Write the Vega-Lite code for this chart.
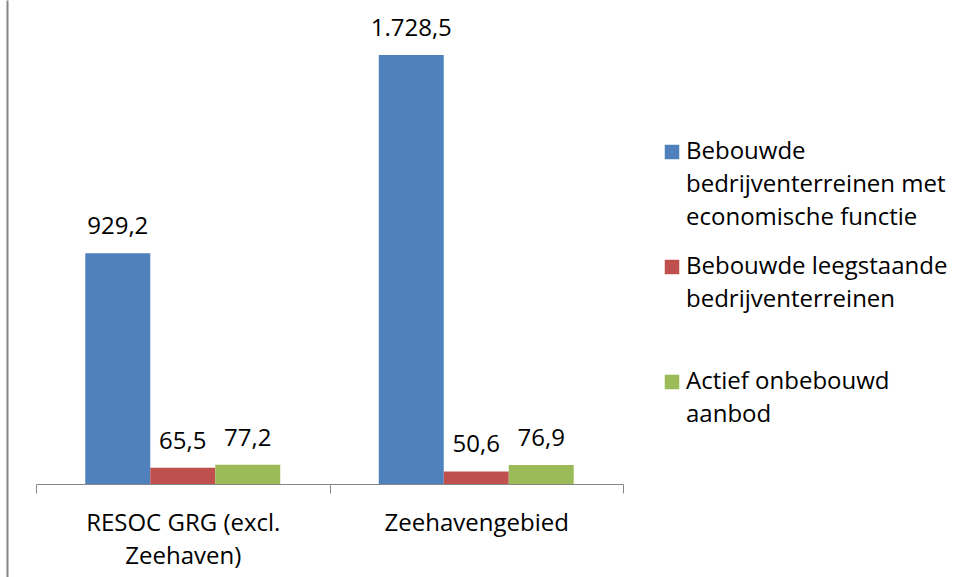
{
  "$schema": "https://vega.github.io/schema/vega-lite/v6.json",
  "width": 587,
  "height": 577,
  "autosize": {"type": "none"},
  "padding": {"left": 36, "top": 0, "right": 334, "bottom": 0},
  "background": "#ffffff",
  "data": {
    "values": [
      {"gebied": "RESOC GRG (excl. Zeehaven)", "reeks": "Bebouwde bedrijventerreinen met economische functie", "waarde": 929.2},
      {"gebied": "RESOC GRG (excl. Zeehaven)", "reeks": "Bebouwde leegstaande bedrijventerreinen", "waarde": 65.5},
      {"gebied": "RESOC GRG (excl. Zeehaven)", "reeks": "Actief onbebouwd aanbod", "waarde": 77.2},
      {"gebied": "Zeehavengebied", "reeks": "Bebouwde bedrijventerreinen met economische functie", "waarde": 1728.5},
      {"gebied": "Zeehavengebied", "reeks": "Bebouwde leegstaande bedrijventerreinen", "waarde": 50.6},
      {"gebied": "Zeehavengebied", "reeks": "Actief onbebouwd aanbod", "waarde": 76.9}
    ]
  },
  "encoding": {
    "x": {
      "field": "gebied",
      "type": "nominal",
      "sort": null,
      "scale": {"paddingInner": 0, "paddingOuter": 0},
      "axis": {
        "title": null,
        "offset": -93,
        "labelAngle": 0,
        "labelFont": "Open Sans",
        "labelFontSize": 24,
        "labelColor": "#000000",
        "labelLineHeight": 33,
        "labelPadding": 18,
        "labelLimit": 400,
        "labelExpr": "datum.value == 'RESOC GRG (excl. Zeehaven)' ? ['RESOC GRG (excl.', 'Zeehaven)'] : datum.value",
        "tickBand": "extent",
        "tickSize": 9,
        "tickColor": "#868686",
        "domainColor": "#868686",
        "grid": false
      }
    },
    "xOffset": {
      "field": "reeks",
      "type": "nominal",
      "sort": ["Bebouwde bedrijventerreinen met economische functie", "Bebouwde leegstaande bedrijventerreinen", "Actief onbebouwd aanbod"],
      "scale": {"paddingInner": 0, "paddingOuter": 0.758}
    },
    "y": {
      "field": "waarde",
      "type": "quantitative",
      "scale": {"domain": [-374.7, 1950], "nice": false, "zero": false},
      "axis": {
        "title": null,
        "labels": false,
        "ticks": false,
        "grid": false,
        "domain": true,
        "domainColor": "#868686",
        "domainWidth": 2,
        "offset": 29
      }
    }
  },
  "layer": [
    {
      "mark": {"type": "bar"},
      "encoding": {
        "y2": {"datum": 0},
        "color": {
          "field": "reeks",
          "type": "nominal",
          "sort": ["Bebouwde bedrijventerreinen met economische functie", "Bebouwde leegstaande bedrijventerreinen", "Actief onbebouwd aanbod"],
          "scale": {"range": ["#4F81BD", "#C0504D", "#9BBB59"]},
          "legend": {
            "orient": "none",
            "legendX": 624,
            "legendY": 140,
            "title": null,
            "symbolType": "square",
            "symbolSize": 210,
            "symbolStrokeWidth": 0,
            "labelFont": "Open Sans",
            "labelFontSize": 24,
            "labelColor": "#000000",
            "labelOffset": 2,
            "labelLimit": 400,
            "gridAlign": "all",
            "rowPadding": 25,
            "labelBaseline": "top",
            "labelExpr": "datum.value == 'Bebouwde bedrijventerreinen met economische functie' ? ['Bebouwde', 'bedrijventerreinen met', 'economische functie'] : datum.value == 'Bebouwde leegstaande bedrijventerreinen' ? ['Bebouwde leegstaande', 'bedrijventerreinen'] : ['Actief onbebouwd', 'aanbod']",
            "encode": {
              "labels": {"update": {"lineHeight": {"value": 33}, "dy": {"value": -12}}}
            }
          }
        }
      }
    },
    {
      "mark": {"type": "text", "baseline": "alphabetic", "dy": -19, "font": "Open Sans", "fontSize": 24, "color": "#000000"},
      "encoding": {
        "text": {"field": "waarde", "type": "quantitative", "format": ",.1f"}
      }
    }
  ],
  "config": {
    "locale": {
      "number": {"decimal": ",", "thousands": ".", "grouping": [3], "currency": ["€", ""]}
    },
    "view": {"stroke": null}
  }
}
